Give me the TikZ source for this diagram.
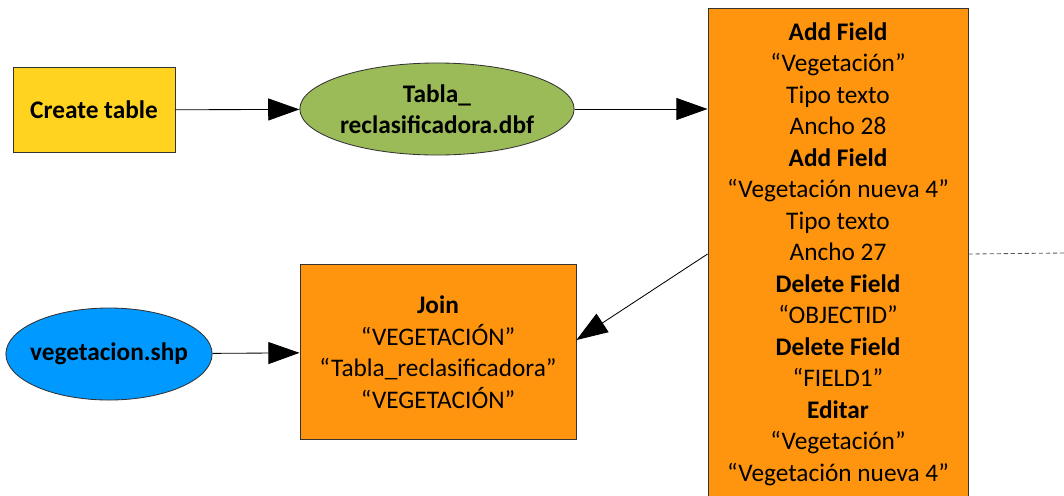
\documentclass[tikz,border=0pt]{standalone}
\usepackage{fontspec}
\setmainfont{Carlito}
\usetikzlibrary{arrows.meta, shapes.geometric, positioning, calc}
\definecolor{tableyellow}{RGB}{255,211,32}
\definecolor{dbfgreen}{RGB}{155,187,89}
\definecolor{shpblue}{RGB}{0,153,255}
\definecolor{toolorange}{RGB}{255,149,14}

\begin{document}
\begin{tikzpicture}[x=0.025cm, y=-0.025cm, line width=0.6pt,
    >={Triangle[length=0.78cm, width=0.55cm]},
    every node/.style={font=\fontsize{18}{22.4}\selectfont, align=center, draw=black!80, line width=0.6pt},
    box/.style={rectangle, inner sep=2pt},
    blob/.style={ellipse, inner sep=0pt}]
    \useasboundingbox (0,0) rectangle (1064,495);
    \clip (0,0) rectangle (1064,495);
    % Nodes
    \node[box, fill=tableyellow, minimum width=4.05cm, minimum height=2.12cm] (create) at (94,110) {\textbf{Create table}};
    \node[blob, fill=dbfgreen, minimum width=6.75cm, minimum height=2.3cm] (tabla) at (437,109) {\textbf{Tabla\_}\\\textbf{reclasificadora.dbf}};
    \node[blob, fill=shpblue, inner xsep=-0.15cm, minimum width=5.05cm, minimum height=2.3cm] (veg) at (109,354) {\textbf{vegetacion.shp}};
    \node[box, fill=toolorange, minimum width=6.9cm, minimum height=4.38cm] (join) at (438,352)
        {\textbf{Join}\\``VEGETACIÓN''\\``Tabla\_reclasificadora''\\``VEGETACIÓN''};
    \node[box, fill=toolorange, minimum width=6.5cm, minimum height=12.3cm] (fields) at (838,254)
        {\textbf{Add Field}\\``Vegetación''\\Tipo texto\\Ancho 28\\
         \textbf{Add Field}\\``Vegetación nueva 4''\\Tipo texto\\Ancho 27\\
         \textbf{Delete Field}\\``OBJECTID''\\\textbf{Delete Field}\\``FIELD1''\\
         \textbf{Editar}\\``Vegetación''\\``Vegetación nueva 4''};
    \coordinate (out) at (1064,253);

    % Edges
    \draw[->] (create) -- (tabla);
    \draw[->] (tabla.east) -- (tabla.east -| fields.west);
    \draw[->] (veg) -- (join);
    \draw[->] (fields.west) -- ([yshift=0.3cm]join.east);
    \draw[dash pattern=on 3pt off 2pt, black!65] (fields.east) -- (out);
\end{tikzpicture}
\end{document}
